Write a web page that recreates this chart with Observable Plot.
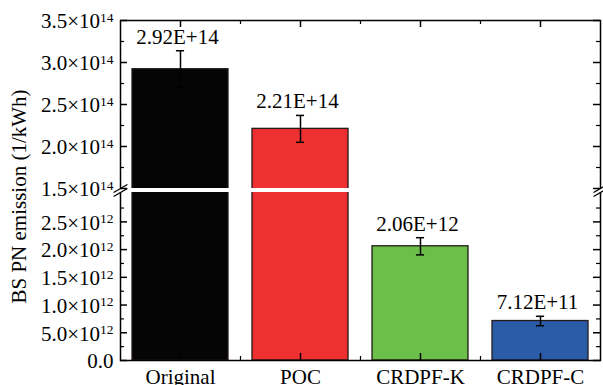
<!DOCTYPE html>
<html>
<head>
<meta charset="utf-8">
<script src="https://cdn.jsdelivr.net/npm/d3@7"></script>
<script src="https://cdn.jsdelivr.net/npm/@observablehq/plot@0.6"></script>
<style>
  html, body { margin: 0; padding: 0; background: #fff; }
  #chart svg { display: block; }
  #chart svg, #chart svg text, #chart svg tspan {
    font-family: "Liberation Serif", "Times New Roman", serif !important;
  }
</style>
</head>
<body>
<div id="chart"></div>
<script>
// Brake-specific particle number emission for each aftertreatment configuration
const categories = ["Original", "POC", "CRDPF-K", "CRDPF-C"];
const emissions = [2.92e14, 2.21e14, 2.06e12, 7.12e11];
const errors = [0.22e14, 0.16e14, 0.155e12, 0.085e12];
const barColors = ["#050505", "#ee3030", "#6cc04a", "#2a5ca8"];

// Broken y axis: lower segment in 10^12, upper segment in 10^14
const lowerTicks = [0, 0.5e12, 1.0e12, 1.5e12, 2.0e12, 2.5e12];
const lowerTickLabels = ["0.0", "5.0×10^12", "1.0×10^12", "1.5×10^12", "2.0×10^12", "2.5×10^12"];
const lowerMinorTicks = [0.25e12, 0.75e12, 1.25e12, 1.75e12, 2.25e12, 2.75e12];
const upperTicks = [1.5e14, 2.0e14, 2.5e14, 3.0e14, 3.5e14];
const upperTickLabels = ["1.5×10^14", "2.0×10^14", "2.5×10^14", "3.0×10^14", "3.5×10^14"];
const upperMinorTicks = [1.75e14, 2.25e14, 2.75e14, 3.25e14];
const breakLow = 3.03e12;
const breakHigh = 1.5e14;
const axisTop = 3.5e14;

const W = 603, H = 385;
const mL = 120, mR = 3, mT = 20, mB = 25;
const frameW = W - mL - mR;
const frameH = H - mT - mB;
const halfBar = 0.4, capHalf = 0.034;

const rows = categories.map((name, i) => ({
  i, name,
  v: emissions[i],
  lo: emissions[i] - errors[i],
  hi: emissions[i] + errors[i],
  color: barColors[i],
  label: emissions[i].toExponential(2).toUpperCase()
}));

const tickText = new Map([
  ...lowerTicks.map((t, k) => [t, lowerTickLabels[k]]),
  ...upperTicks.map((t, k) => [t, upperTickLabels[k]])
]);
const majorY = [...lowerTicks, ...upperTicks];
const minorY = [...lowerMinorTicks, ...upperMinorTicks];
const centers = categories.map((_, i) => i);
const between = categories.slice(1).map((_, i) => i + 0.5);

// a plain straight stroke for the axis-break marks
const slash = { draw(context, l) { context.moveTo(0, 0); context.lineTo(0, -l); } };

const chart = Plot.plot({
  width: W, height: H,
  marginLeft: mL, marginRight: mR, marginTop: mT, marginBottom: mB,
  style: {
    fontFamily: "Liberation Serif, Times New Roman, serif",
    fontSize: "21px",
    color: "#000",
    background: "#fff"
  },
  x: { type: "linear", domain: [-0.5, categories.length - 0.5] },
  y: { type: "linear", domain: [0, breakLow, breakHigh, axisTop], range: [360, 192, 188, 20] },
  color: { type: "identity" },
  marks: [
    Plot.rect(rows, {
      x1: d => d.i - halfBar, x2: d => d.i + halfBar,
      y1: 0, y2: "v",
      fill: "color", stroke: "#241a1a", strokeWidth: 1.3
    }),
    Plot.frame({ stroke: "#000", strokeWidth: 1.5 }),
    // white gap marking the axis break
    Plot.rect([0], { y1: breakLow, y2: breakHigh, fill: "white", insetLeft: -3, insetRight: -3 }),
    // error bars
    Plot.ruleX(rows, { x: "i", y1: "lo", y2: "hi", stroke: "#000", strokeWidth: 1.5 }),
    Plot.ruleY(rows, { y: "hi", x1: d => d.i - capHalf, x2: d => d.i + capHalf, stroke: "#000", strokeWidth: 1.5 }),
    Plot.ruleY(rows, { y: "lo", x1: d => d.i - capHalf, x2: d => d.i + capHalf, stroke: "#000", strokeWidth: 1.5 }),
    // value labels
    Plot.text(rows, { x: "i", y: "hi", text: "label", lineAnchor: "bottom", dy: -7, dx: -3 }),
    // inward ticks, left and right
    Plot.tickY(majorY, { y: d => d, insetRight: frameW - 7, strokeWidth: 1.5 }),
    Plot.tickY(minorY, { y: d => d, insetRight: frameW - 4, strokeWidth: 1.2 }),
    Plot.tickY(majorY, { y: d => d, insetLeft: frameW - 7, strokeWidth: 1.5 }),
    Plot.tickY(minorY, { y: d => d, insetLeft: frameW - 4, strokeWidth: 1.2 }),
    // inward ticks, bottom and top
    Plot.tickX(centers, { x: d => d, insetTop: frameH - 7, strokeWidth: 1.5 }),
    Plot.tickX(between, { x: d => d, insetTop: frameH - 4, strokeWidth: 1.2 }),
    Plot.tickX(centers, { x: d => d, insetBottom: frameH - 7, strokeWidth: 1.5 }),
    Plot.tickX(between, { x: d => d, insetBottom: frameH - 4, strokeWidth: 1.2 }),
    // axis-break marks on both sides
    Plot.vector([breakLow, breakHigh], { y: d => d, frameAnchor: "left", length: 15, rotate: 60, anchor: "middle", shape: slash, strokeWidth: 1.3 }),
    Plot.vector([breakLow, breakHigh], { y: d => d, frameAnchor: "right", length: 15, rotate: 60, anchor: "middle", shape: slash, strokeWidth: 1.3 }),
    Plot.axisY(majorY, { tickSize: 0, tickPadding: 7, tickFormat: d => tickText.get(d), label: null, dy: 1 }),
    Plot.axisX(centers, { tickSize: 0, tickPadding: 9, tickFormat: i => categories[i], label: null }),
    Plot.text(["BS PN emission (1/kWh)"], {
      text: d => d, frameAnchor: "left", textAnchor: "middle", lineAnchor: "middle",
      rotate: -90, dx: -101, dy: 6
    })
  ]
});

// raise the exponent part of "a×10^b" labels
d3.select(chart).selectAll("text").each(function () {
  const s = this.textContent;
  const k = s.indexOf("^");
  if (k < 0) return;
  const el = d3.select(this);
  el.text(null);
  el.append("tspan").text(s.slice(0, k));
  el.append("tspan").attr("dy", -6.5).attr("font-size", "13.5px").text(s.slice(k + 1));
});

document.getElementById("chart").appendChild(chart);
</script>
</body>
</html>
